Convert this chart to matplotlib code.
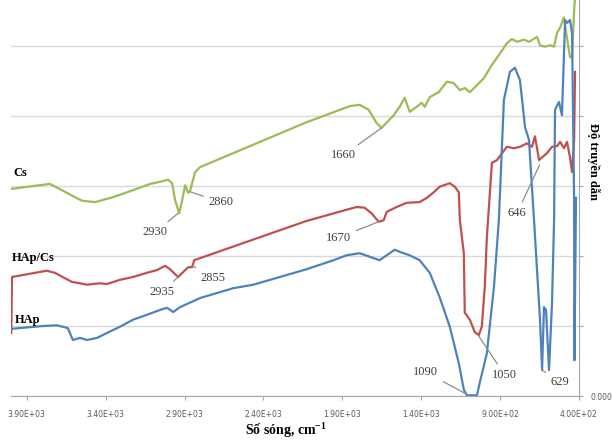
import matplotlib
matplotlib.use("Agg")
import matplotlib.pyplot as plt

plt.rcParams['mathtext.fontset'] = 'custom'
plt.rcParams['mathtext.rm'] = 'Liberation Serif:bold'
plt.rcParams['mathtext.it'] = 'Liberation Serif:italic:bold'

# FTIR spectra, wavenumber (cm-1) vs transmittance (arbitrary units)
cs_wn = [3995, 3754, 3551, 3468, 3354, 3227, 3119, 3055, 3004, 2979, 2960, 2934,
         2915, 2896, 2877, 2864, 2833, 2801, 2128, 1854, 1791, 1734, 1683, 1651,
         1575, 1537, 1505, 1473, 1429, 1397, 1378, 1346, 1289, 1238, 1194, 1155,
         1124, 1092, 1047, 1003, 952, 908, 857, 825, 793, 749, 717, 666, 647, 616,
         584, 558, 539, 520, 495, 482, 457, 444, 431, 425]
cs_t = [2.96, 3.03, 2.79, 2.77, 2.84, 2.94, 3.03, 3.06, 3.09, 3.04, 2.80, 2.61,
        2.80, 3.01, 2.90, 2.94, 3.20, 3.27, 3.91, 4.14, 4.16, 4.09, 3.90, 3.83,
        4.01, 4.13, 4.26, 4.06, 4.13, 4.19, 4.13, 4.27, 4.34, 4.49, 4.47, 4.37,
        4.40, 4.34, 4.44, 4.54, 4.73, 4.87, 5.04, 5.10, 5.06, 5.09, 5.06, 5.13,
        5.01, 4.99, 5.01, 4.99, 5.19, 5.26, 5.41, 5.20, 4.84, 4.83, 5.51, 5.70]

hapcs_wn = [3998, 3994, 3773, 3722, 3614, 3563, 3519, 3436, 3392, 3309, 3227, 3138,
            3074, 3023, 2992, 2941, 2909, 2877, 2852, 2839, 2801, 2128, 1810, 1759,
            1715, 1670, 1638, 1619, 1556, 1492, 1410, 1365, 1321, 1283, 1219, 1187,
            1162, 1155, 1130, 1124, 1092, 1060, 1035, 1016, 997, 984, 971, 952, 920,
            857, 812, 774, 730, 698, 679, 653, 634, 603, 571, 539, 520, 495, 476,
            457, 444, 431, 425]
hapcs_t = [0.90, 1.70, 1.79, 1.76, 1.63, 1.61, 1.59, 1.61, 1.60, 1.66, 1.70, 1.76,
           1.80, 1.86, 1.81, 1.70, 1.77, 1.84, 1.84, 1.94, 1.97, 2.50, 2.70, 2.69,
           2.61, 2.49, 2.51, 2.63, 2.70, 2.76, 2.77, 2.83, 2.91, 2.99, 3.04, 2.99,
           2.91, 2.51, 2.04, 1.19, 1.09, 0.91, 0.87, 0.99, 1.56, 2.27, 2.70, 3.33,
           3.37, 3.56, 3.54, 3.56, 3.61, 3.56, 3.71, 3.37, 3.41, 3.47, 3.56, 3.57,
           3.63, 3.54, 3.63, 3.41, 3.20, 3.66, 4.63]

hap_wn = [3995, 3798, 3709, 3640, 3608, 3563, 3519, 3455, 3392, 3309, 3227, 3138,
          3055, 3011, 2972, 2928, 2801, 2591, 2464, 2128, 1956, 1873, 1791, 1702,
          1664, 1619, 1568, 1537, 1473, 1410, 1346, 1283, 1219, 1162, 1130, 1111,
          1047, 1029, 984, 939, 908, 876, 838, 806, 774, 742, 717, 685, 666, 647,
          634, 622, 609, 590, 571, 558, 552, 527, 508, 488, 476, 457, 444, 431,
          429, 419]
hap_t = [0.96, 1.00, 1.01, 0.97, 0.80, 0.83, 0.80, 0.83, 0.90, 0.99, 1.09, 1.16,
         1.23, 1.26, 1.20, 1.27, 1.40, 1.54, 1.59, 1.81, 1.94, 2.01, 2.04, 1.97,
         1.94, 2.01, 2.09, 2.06, 2.01, 1.94, 1.76, 1.41, 0.99, 0.47, 0.09, 0.01,
         0.01, 0.19, 0.61, 1.56, 2.51, 4.23, 4.63, 4.69, 4.51, 3.84, 3.66, 2.51,
         1.80, 1.09, 0.37, 1.27, 1.23, 0.37, 1.33, 2.51, 4.09, 4.20, 4.01, 5.37,
         5.33, 5.37, 5.19, 2.80, 0.51, 2.83]

x_ticks = [3900, 3400, 2900, 2400, 1900, 1400, 900, 400]
x_labels = ['3.90E+03', '3.40E+03', '2.90E+03', '2.40E+03', '1.90E+03',
            '1.40E+03', '9.00E+02', '4.00E+02']

# peak labels: text, peak point, label position
peaks = [
    ('2930', (2941, 2.61), (3087, 2.34)),
    ('2860', (2868, 2.92), (2667, 2.77)),
    ('1660', (1651, 3.83), (1892, 3.44)),
    ('2935', (2941, 1.70), (3042, 1.49)),
    ('2855', (2850, 1.86), (2718, 1.69)),
    ('1670', (1670, 2.49), (1924, 2.26)),
    ('646', (650, 3.30), (793, 2.61)),
    ('1090', (1100, 0.01), (1371, 0.34)),
    ('1050', (1040, 0.87), (870, 0.30)),
    ('629', (634, 0.37), (520, 0.20)),
]

fig = plt.figure(figsize=(6.12, 4.41), dpi=100)
ax = fig.add_axes([11 / 612, 45 / 441, 568 / 612, 396 / 441])

ax.plot(cs_wn, cs_t, color='#9BBB59', lw=1.6)
ax.plot(hapcs_wn, hapcs_t, color='#C0504D', lw=1.6)
ax.plot(hap_wn, hap_t, color='#4F81BD', lw=1.6)

ax.set_xlim(4000, 400)
ax.set_ylim(0, 396 / 70)

ax.set_xticks(x_ticks)
ax.set_xticklabels(x_labels, fontsize=5.5, color='#595959')
ax.yaxis.tick_right()
ax.set_yticks([0, 1, 2, 3, 4, 5])
ax.set_yticklabels(['0.000', '', '', '', '', ''], fontsize=5.5, color='#595959')
ax.tick_params(axis='x', length=3, color='#A6A6A6', pad=7)
ax.tick_params(axis='y', length=3, color='#A6A6A6', pad=5)
ax.yaxis.grid(True, color='#D9D9D9', lw=1)
ax.set_axisbelow(True)

for side in ['top', 'left']:
    ax.spines[side].set_visible(False)
for side in ['bottom', 'right']:
    ax.spines[side].set_color('#A6A6A6')

for label, xy, xyt in peaks:
    ax.annotate(label, xy=xy, xytext=xyt, ha='center', va='center',
                fontsize=9, family='Liberation Serif', color='#404040',
                arrowprops=dict(arrowstyle='-', color='#8C8C8C', lw=0.9,
                                shrinkA=2, shrinkB=0))

ax.text(3983, 3.19, 'Cs', fontsize=9, weight='bold', family='Liberation Serif',
        ha='left', va='center')
ax.text(3995, 1.97, 'HAp/Cs', fontsize=9, weight='bold', family='Liberation Serif',
        ha='left', va='center')
ax.text(3976, 1.09, 'HAp', fontsize=9, weight='bold', family='Liberation Serif',
        ha='left', va='center')

fig.text(286 / 612, 1 - 431 / 441, 'Số sóng, cm$^{-1}$', fontsize=10,
         weight='bold', family='Liberation Serif', ha='center', va='center')
fig.text(593 / 612, 1 - 161 / 441, 'Độ truyền dẫn', fontsize=9, weight='bold',
         family='Liberation Serif', rotation=270, ha='center', va='center')

fig.savefig('out.png', dpi=100)
